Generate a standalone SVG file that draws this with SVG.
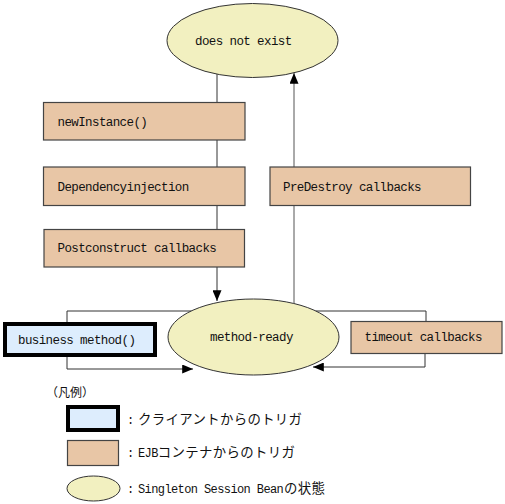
<svg xmlns="http://www.w3.org/2000/svg" width="505" height="504" viewBox="0 0 505 504">
<style>
.st{fill:#f2f0c0;stroke:#333;stroke-width:1}
.cb{fill:#e8c6a6;stroke:#444;stroke-width:1.2}
.cl{fill:#ddedfd;stroke:#000;stroke-width:4}
.t{font-family:"Liberation Mono","Noto Sans CJK JP",monospace;font-size:12.5px;letter-spacing:-0.6px;fill:#111}
.lt{font-family:"Liberation Mono","Noto Sans CJK JP",monospace;font-size:12px;letter-spacing:-0.6px;fill:#111}
.jp{font-family:"Noto Sans CJK JP",sans-serif;font-size:13.4px;letter-spacing:0.35px}
.ln{fill:none;stroke:#333;stroke-width:1}
</style>
<defs>
<marker id="ahl" viewBox="0 0 12 10" refX="12" refY="5" markerWidth="12" markerHeight="9" markerUnits="userSpaceOnUse" orient="auto">
<path d="M0,0 L12,5 L0,10 z" fill="#000"/>
</marker>
</defs>
<g id="connectors">
<path class="ln" d="M217,73.7 V102 M217,140 V167 M217,205 V229"/>
<path class="ln" d="M217,267 V301" marker-end="url(#ahl)"/>
<path class="ln" d="M294,303.5 V205" style="stroke:#555"/>
<path class="ln" d="M294,167 V73" style="stroke:#555" marker-end="url(#ahl)"/>
<path class="ln" d="M191.5,311 H67 V322"/>
<path class="ln" d="M67,357 V369 H193" marker-end="url(#ahl)"/>
<path class="ln" d="M315.5,311 H426 V321"/>
<path class="ln" d="M425,353 V367 H313" marker-end="url(#ahl)"/>
</g>
<g id="does-not-exist">
<ellipse class="st" cx="252.5" cy="40.5" rx="85.5" ry="37"/>
<text class="t" x="195" y="44.5">does not exist</text>
</g>
<g id="newInstance">
<rect class="cb" x="43.5" y="102.5" width="201.5" height="37.5"/>
<text class="t" x="57.5" y="125.5">newInstance()</text>
</g>
<g id="dependencyinjection">
<rect class="cb" x="43.5" y="167" width="201.5" height="38.5"/>
<text class="t" x="57.5" y="190.5">Dependencyinjection</text>
</g>
<g id="postconstruct">
<rect class="cb" x="44" y="229.5" width="200.5" height="37.5"/>
<text class="t" x="57.5" y="252">Postconstruct callbacks</text>
</g>
<g id="predestroy">
<rect class="cb" x="270" y="167" width="200.5" height="38.5"/>
<text class="t" x="283" y="190.5">PreDestroy callbacks</text>
</g>
<g id="method-ready">
<ellipse class="st" cx="253.5" cy="337" rx="85.5" ry="38"/>
<text class="t" x="210" y="340.5">method-ready</text>
</g>
<g id="business-method">
<rect class="cl" x="5" y="324" width="150" height="31"/>
<text class="t" x="18" y="344">business method()</text>
</g>
<g id="timeout">
<rect class="cb" x="351" y="321.5" width="151" height="32"/>
<text class="t" x="364.5" y="341">timeout callbacks</text>
</g>
<g id="legend">
<text class="jp" x="46" y="397" style="font-size:12px;letter-spacing:0;fill:#111">（凡例）</text>
<rect class="cl" x="68" y="407" width="50" height="23"/>
<text class="lt" x="127" y="423.5">:<tspan class="jp" x="138">クライアントからのトリガ</tspan></text>
<rect class="cb" x="67.5" y="440.5" width="51" height="25"/>
<text class="lt" x="127" y="457"><tspan>:</tspan><tspan x="138">EJB</tspan><tspan class="jp">コンテナからのトリガ</tspan></text>
<ellipse class="st" cx="93.5" cy="488.5" rx="26.5" ry="12.5"/>
<text class="lt" x="127" y="492.5"><tspan>:</tspan><tspan x="138">Singleton Session Bean</tspan><tspan class="jp" x="284">の状態</tspan></text>
</g>
</svg>
